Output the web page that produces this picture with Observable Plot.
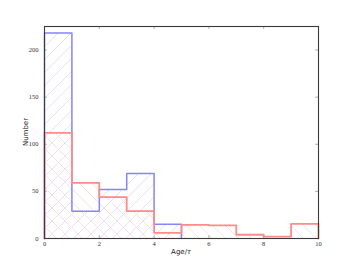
<!DOCTYPE html>
<html>
<head>
<meta charset="utf-8">
<script src="https://cdn.jsdelivr.net/npm/d3@7"></script>
<script src="https://cdn.jsdelivr.net/npm/@observablehq/plot@0.6"></script>
<style>
  html, body { margin: 0; padding: 0; background: #fff; }
  #chart { position: relative; width: 354px; height: 265px; }
</style>
</head>
<body>
<div id="chart"></div>
<script>
// Bin edges (Age/τ) and counts per bin
const binEdges = [0, 1, 2, 3, 4, 5, 6, 7, 8, 9, 10];
const blueCounts = [218, 29, 52, 69, 15];
const redCounts = [112, 59, 44, 29, 6, 14.5, 14, 4, 2, 15.5];
const xTicks = [0, 2, 4, 6, 8, 10];
const yTicks = [0, 50, 100, 150, 200];
const xLabel = "Age/";
const yLabel = "Number";

function bins(counts) {
  return counts.map((v, i) => ({x1: binEdges[i], x2: binEdges[i + 1], y: v}));
}
function outline(counts) {
  const pts = [{x: binEdges[0], y: 0}];
  counts.forEach((v, i) => { pts.push({x: binEdges[i], y: v}); pts.push({x: binEdges[i + 1], y: v}); });
  pts.push({x: binEdges[counts.length], y: 0});
  return pts;
}

const blueLine = "#8585ff";
const redLine = "#ff8a8a";
const blueHatch = "#e2e2ff";
const redHatch = "#ffdede";

const plot = Plot.plot({
  width: 354,
  height: 265,
  marginLeft: 44,
  marginRight: 36,
  marginTop: 26,
  marginBottom: 27,
  x: {domain: [0, 10]},
  y: {domain: [0, 225]},
  style: {background: "white"},
  marks: [
    Plot.rectY(bins(blueCounts), {x1: "x1", x2: "x2", y: "y", fill: "url(#hatchBlue)"}),
    Plot.rectY(bins(redCounts), {x1: "x1", x2: "x2", y: "y", fill: "url(#hatchRed)"}),
    Plot.line(outline(blueCounts), {x: "x", y: "y", stroke: blueLine, strokeWidth: 1.5}),
    Plot.line(outline(redCounts), {x: "x", y: "y", stroke: redLine, strokeWidth: 1.8}),
    // inward ticks on all four sides
    Plot.ruleX(xTicks.slice(1, -1), {y1: 0, y2: 3, stroke: "#aaa", strokeWidth: 1}),
    Plot.ruleX(xTicks.slice(1, -1), {y1: 225 - 3, y2: 225, stroke: "#aaa", strokeWidth: 1}),
    Plot.ruleY(yTicks.slice(1), {x1: 0, x2: 0.1, stroke: "#aaa", strokeWidth: 1}),
    Plot.ruleY(yTicks.slice(1), {x1: 10 - 0.1, x2: 10, stroke: "#aaa", strokeWidth: 1}),
    Plot.frame({stroke: "#3a3a3a", strokeWidth: 1.1}),
    Plot.axisX({ticks: xTicks, tickSize: 0, tickPadding: 3, label: null,
      fontFamily: "Liberation Serif", fontSize: 6.5, fill: "#333"}),
    Plot.axisY({ticks: yTicks, tickSize: 0, tickPadding: 6, label: null,
      fontFamily: "Liberation Serif", fontSize: 6.5, fill: "#333"})
  ]
});

// hatch patterns
const svg = d3.select(plot);
const defs = svg.insert("defs", ":first-child");
const s = 13;
const pb = defs.append("pattern").attr("id", "hatchBlue").attr("patternUnits", "userSpaceOnUse")
  .attr("width", s).attr("height", s);
pb.append("path").attr("d", `M0,${s} L${s},0 M${-s/2},${s/2} L${s/2},${-s/2} M${s/2},${s*1.5} L${s*1.5},${s/2}`)
  .attr("stroke", blueHatch).attr("stroke-width", 1).attr("fill", "none");
const pr = defs.append("pattern").attr("id", "hatchRed").attr("patternUnits", "userSpaceOnUse")
  .attr("width", s).attr("height", s);
pr.append("path").attr("d", `M0,0 L${s},${s} M${-s/2},${s/2} L${s/2},${s*1.5} M${s/2},${-s/2} L${s*1.5},${s/2}`)
  .attr("stroke", redHatch).attr("stroke-width", 1).attr("fill", "none");

// axis labels
svg.append("text").attr("x", 181).attr("y", 253.5)
  .attr("text-anchor", "middle").attr("font-family", "DejaVu Sans").attr("font-size", 7).attr("fill", "#222")
  .call(t => { t.append("tspan").text(xLabel); t.append("tspan").attr("font-family", "DejaVu Serif").attr("font-style", "italic").text("τ"); });
svg.append("text").attr("transform", `translate(27.5,${26 + (265 - 26 - 27) / 2}) rotate(-90)`)
  .attr("text-anchor", "middle").attr("font-family", "DejaVu Sans").attr("font-size", 7).attr("fill", "#222")
  .text(yLabel);

document.getElementById("chart").appendChild(plot);
</script>
</body>
</html>
